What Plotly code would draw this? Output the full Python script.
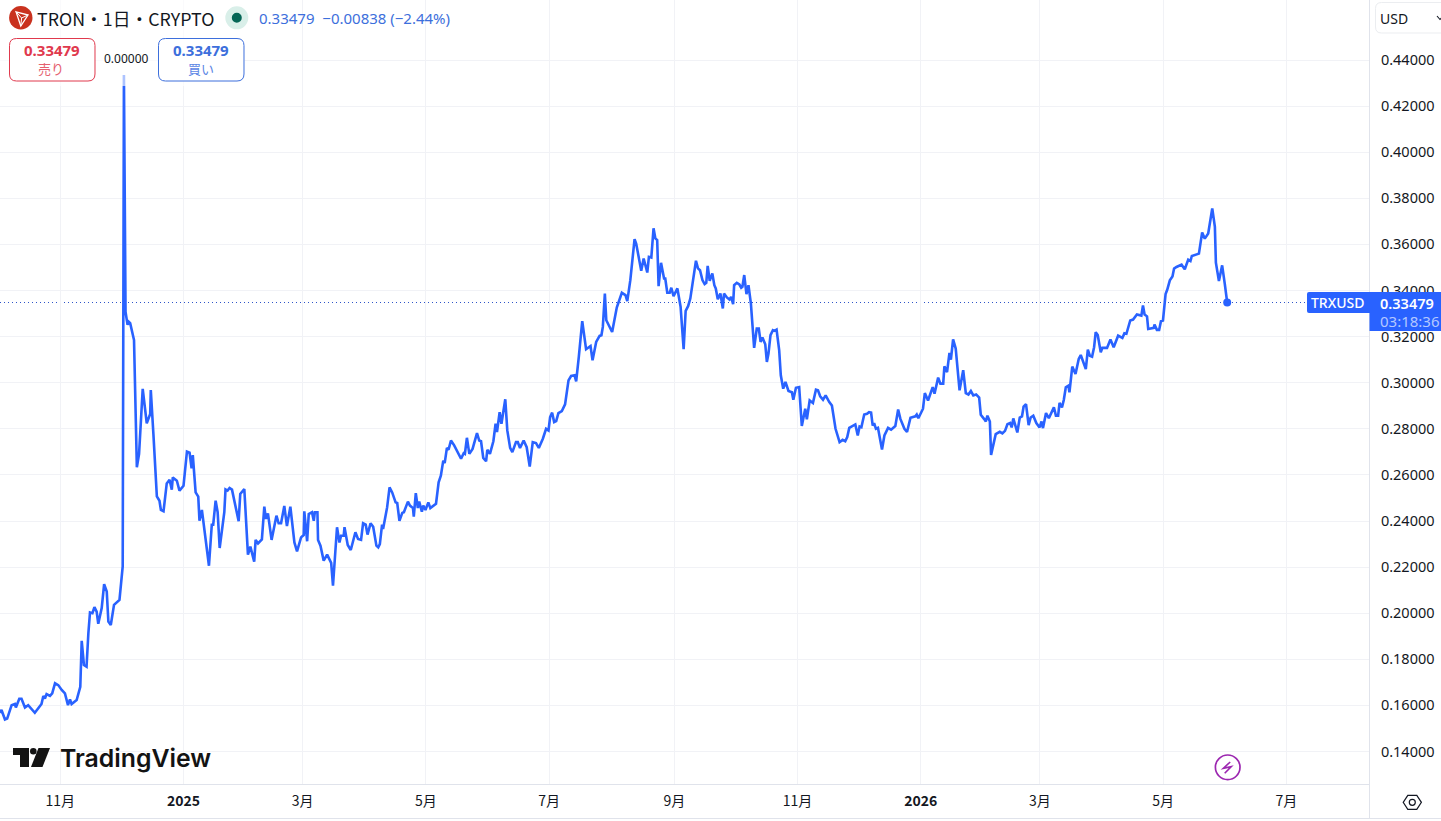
import pandas as pd
import plotly.graph_objects as go

# Daily TRX/USD closes: days counted from 1 Nov 2024 and the close in USD.
days_since_nov1 = [
    -29.9, -29.1, -27.4, -26.3, -24.1, -22.5, -22.0, -20.3, -19.2, -17.5, -15.9, -12.6, -9.3, -8.4, -7.6, -6.8,
    -5.1, -4.0, -2.6, -1.0, 0.7, 2.3, 3.8, 4.8, 5.6, 8.1, 9.9, 10.6, 11.7, 13.0, 13.9, 14.7, 15.9, 16.9, 18.0,
    18.8, 20.5, 21.7, 23.0, 23.8, 25.0, 26.6, 29.3, 30.9, 31.5, 32.3, 33.3, 33.9,
    34.6, 36.5, 37.9, 39.0, 40.8, 42.8, 44.5, 44.8, 46.1, 47.8, 49.1, 49.8, 51.1, 52.7, 54.1, 55.2, 55.7, 57.7,
    59.0, 61.0, 62.7, 64.0, 65.0, 65.6, 67.0, 68.3, 68.9, 70.1, 73.6, 75.0, 75.7, 76.9, 77.9, 78.9, 81.2, 81.8,
    82.8, 83.8, 85.0, 86.6, 88.3, 89.1, 91.1, 92.9, 94.1, 96.0, 96.7, 97.9, 99.8, 101.0, 101.8, 102.8, 104.6,
    107.0, 108.1, 109.3, 110.9, 112.2, 113.9, 115.9, 117.2, 119.2, 120.5, 120.8, 122.2, 123.0, 124.6, 125.5,
    126.0, 127.3, 127.6, 128.8, 130.4, 132.1, 134.1, 135.0, 137.0, 138.2, 139.0, 140.3, 140.7, 142.3, 143.8,
    146.1, 147.4, 148.9, 149.9, 151.2, 152.1, 153.6, 154.9, 156.5, 157.4, 158.2, 159.3, 159.8, 161.8, 163.0,
    164.3, 166.0, 166.8, 167.9, 169.3, 170.1, 172.1, 173.1, 174.6, 175.0, 176.0, 177.0, 177.7, 179.0, 179.7,
    180.8, 182.2, 183.2, 186.0,
    186.8, 187.3, 188.4, 189.6, 190.3, 191.4, 192.2, 193.4, 195.0, 198.4, 199.7, 200.3, 201.3, 202.5, 204.1,
    206.3, 207.4, 208.3, 209.4, 210.8, 211.4, 212.7, 214.4, 215.5, 216.2, 217.5, 218.4, 220.3, 221.3, 222.7,
    223.8, 225.6, 226.5, 227.6, 229.4, 230.9, 232.4, 233.9, 235.5, 236.9, 238.9, 240.5, 241.7, 242.5, 243.5,
    244.5, 245.5, 246.6, 248.3, 249.9, 251.6, 252.9, 254.6, 255.4, 256.7, 258.4, 260.3, 262.5, 263.5, 265.3,
    267.0, 267.9, 268.6, 269.6, 270.3, 271.9, 273.2, 275.5, 278.0, 279.8, 280.7, 282.2, 284.3, 285.1, 286.8,
    287.6, 288.8, 290.6, 291.4, 292.6, 293.7, 294.6, 295.5, 296.2, 297.4, 298.9, 299.5, 300.5, 301.7, 302.5,
    303.6, 305.5, 307.1, 308.6, 309.6, 310.8, 311.9, 314.7, 315.7, 316.7, 317.9, 319.0, 319.8, 320.5, 321.5,
    322.8, 323.8, 324.5, 325.5, 326.8,
    328.0, 328.6, 330.0, 331.3, 332.1, 333.1, 333.6, 334.9, 336.2, 337.1, 337.7, 338.6, 339.7, 340.7, 341.9,
    343.5, 344.8, 345.8, 346.7, 347.6, 349.0, 349.8, 350.6, 351.6, 352.8, 353.6, 354.6, 355.9, 356.7, 357.9,
    359.0, 360.5, 362.2, 362.9, 364.2, 365.8, 367.1, 368.8, 369.6, 371.0, 372.6, 374.1, 375.1, 376.2, 377.6,
    378.9, 380.7, 382.0, 383.8, 385.8, 387.3, 388.6, 389.6, 390.6, 393.6, 394.8, 395.7, 396.6, 398.0, 399.4,
    400.4, 401.4, 402.2, 402.9, 403.8, 404.8, 406.8, 408.0, 409.8, 411.3, 413.4, 414.8, 415.9, 417.9, 419.2,
    420.9, 423.3, 424.0, 424.8, 427.1, 428.0, 429.6, 431.9, 432.8, 434.6, 435.7, 437.1, 437.7, 439.0, 440.2,
    440.9, 442.0, 443.3, 445.2, 447.0, 448.3, 449.6, 450.8, 452.0, 453.4, 454.9,
    455.7, 457.4, 458.2, 459.0, 460.2, 460.8, 463.1, 465.1, 466.4, 467.7, 468.9, 470.2, 471.0, 471.8, 473.8,
    475.0, 476.1, 476.9, 478.1, 479.4, 480.4, 481.7, 483.2, 484.8, 485.8, 486.5, 488.0, 489.4, 491.9, 492.9,
    494.0, 494.7, 495.9, 496.8, 497.8, 499.1, 499.6, 501.0, 502.6, 504.2, 505.2, 507.7, 508.7, 509.7, 510.8,
    511.8, 512.6, 513.6, 515.1, 515.9, 518.2, 519.9, 521.5, 523.7, 525.8, 526.8, 527.8, 529.7, 531.1, 533.0,
    535.2, 536.0, 536.8, 538.0, 538.6, 541.4, 541.7, 542.9, 544.0, 544.9, 545.9, 547.2,
    548.0, 549.3, 550.6, 551.4, 552.6, 555.1, 556.7, 558.4, 559.5, 560.2, 563.7, 565.3, 566.6, 568.3, 570.3,
    571.6, 572.1, 573.6, 575.2, 576.5, 577.7,
]
close_usd = [
    .1568, .1580, .1539, .1543, .1601, .1606, .1591, .1629, .1629, .1591, .1601, .1568, .1606, .1641, .1630, .1649,
    .1641, .1652, .1696, .1688, .1667, .1652, .1601, .1626, .1606, .1623, .1681, .1880, .1775, .1768, .1913, .2003, .2000, .2026, .2007,
    .1954, .2022, .2126, .2094, .1964, .1949, .2036, .2058, .2203, .4335, .3307, .3251, .3264,
    .3258, .3185, .2633, .2691, .2973, .2824, .2864, .2968, .2777, .2507, .2488, .2448, .2442, .2563, .2579, .2536, .2589, .2575,
    .2532, .2553, .2701, .2696, .2628, .2686, .2524, .2506, .2401, .2448, .2206, .2384, .2384, .2488, .2438, .2283, .2438, .2537,
    .2532, .2543, .2536, .2462, .2399, .2517, .2539, .2254, .2289, .2224, .2318, .2303, .2320, .2462, .2409, .2433, .2318,
    .2423, .2390, .2390, .2465, .2378, .2462, .2307, .2268, .2329, .2339, .2442, .2312, .2430, .2438, .2401,
    .2438, .2438, .2318, .2293, .2228, .2254, .2218, .2119, .2373, .2307, .2336, .2336, .2373, .2296, .2274,
    .2351, .2322, .2318, .2390, .2384, .2341, .2390, .2375, .2293, .2286, .2300, .2384, .2365, .2459, .2546,
    .2524, .2481, .2478, .2401, .2435, .2438, .2484, .2467, .2456, .2419, .2521, .2456, .2484, .2440, .2467,
    .2448, .2481, .2456, .2475,
    .2532, .2568, .2597, .2662, .2651, .2717, .2709, .2749, .2728, .2670, .2694, .2691, .2761, .2691, .2713,
    .2781, .2749, .2746, .2674, .2659, .2709, .2691, .2746, .2822, .2786, .2872, .2822, .2928, .2793, .2717,
    .2699, .2742, .2742, .2717, .2749, .2720, .2636, .2742, .2738, .2717, .2757, .2800, .2793, .2851, .2870,
    .2829, .2833, .2868, .2877, .2906, .3010, .3029, .3032, .3006, .3112, .3267, .3145, .3159, .3097, .3177,
    .3203, .3206, .3242, .3387, .3271, .3242, .3220, .3326, .3390, .3380, .3354, .3445, .3623, .3604, .3517,
    .3486, .3539, .3478, .3546, .3543, .3670, .3626, .3619, .3419, .3520, .3452, .3452, .3390, .3390, .3412,
    .3375, .3409, .3329, .3145, .3312, .3332, .3365, .3529, .3496, .3488, .3445, .3428, .3433, .3507, .3442,
    .3474, .3423, .3409, .3362, .3387,
    .3322, .3387, .3370, .3361, .3372, .3341, .3423, .3433, .3426, .3412, .3416, .3467, .3384, .3423, .3343,
    .3151, .3235, .3235, .3177, .3196, .3167, .3090, .3126, .3206, .3228, .3225, .3230, .3141, .3032, .2974,
    .3003, .2964, .2959, .2926, .2978, .2981, .2812, .2887, .2841, .2923, .2912, .2970, .2967, .2941, .2926,
    .2945, .2916, .2901, .2800, .2742, .2752, .2746, .2764, .2804, .2819, .2771, .2810, .2807, .2862, .2865,
    .2872, .2870, .2814, .2825, .2800, .2804, .2710, .2771, .2804, .2796, .2812, .2884, .2843, .2800, .2786,
    .2848, .2854, .2862, .2846, .2887, .2955, .2923, .2981, .2952, .3022, .2996, .2996, .3071, .3046, .3129,
    .3100, .3188, .3148, .2967, .3054, .2955, .2949, .2964, .2945, .2949, .2935,
    .2861, .2842, .2832, .2857, .2832, .2687, .2777, .2787, .2780, .2791, .2820, .2825, .2806, .2845, .2784,
    .2849, .2854, .2896, .2907, .2816, .2849, .2857, .2825, .2806, .2832, .2803, .2868, .2846, .2893, .2857,
    .2857, .2912, .2893, .2925, .2980, .2987, .2958, .3070, .3038, .3103, .3120, .3059, .3143, .3117, .3113,
    .3154, .3219, .3207, .3132, .3151, .3151, .3187, .3154, .3204, .3194, .3214, .3212, .3270, .3274, .3296,
    .3291, .3335, .3296, .3288, .3233, .3238, .3252, .3229, .3229, .3267, .3270, .3385,
    .3403, .3444, .3461, .3495, .3502, .3512, .3492, .3534, .3528, .3550, .3560, .3652, .3625, .3647, .3756,
    .3676, .3521, .3441, .3509, .3429, .33479,
]
assert len(days_since_nov1) == len(close_usd)

price_ticks = [0.14, 0.16, 0.18, 0.20, 0.22, 0.24, 0.26, 0.28, 0.30, 0.32, 0.34, 0.36, 0.38, 0.40, 0.42, 0.44]
month_ticks = ["2024-11-01", "2025-01-01", "2025-03-01", "2025-05-01", "2025-07-01", "2025-09-01",
               "2025-11-01", "2026-01-01", "2026-03-01", "2026-05-01", "2026-07-01"]
month_labels = ["11月", "<b>2025</b>", "3月", "5月", "7月", "9月", "11月", "<b>2026</b>", "3月", "5月", "7月"]

BLUE = "#2962ff"
RED = "#e0394d"
INK = "#131722"
GRID = "#f1f2f6"
EDGE = "#e0e3eb"
LATIN = "'Noto Sans', 'Noto Sans CJK JP', sans-serif"
CJK = "'Noto Sans CJK JP', 'Noto Sans', sans-serif"

WIDTH, HEIGHT = 1441, 821
PANE_W, PANE_H = 1369, 784

origin = pd.Timestamp("2024-11-01")


def to_date(day):
    return origin + pd.Timedelta(days=day)


def px(x):
    return x / PANE_W


def py(y):
    return 1 - y / PANE_H


def poly(points, close=True):
    body = " L".join(f"{px(x):.5f},{py(y):.5f}" for x, y in points)
    return "M" + body + (" Z" if close else "")


def round_rect(x0, y0, x1, y1, r):
    c = lambda x, y: f"{px(x):.5f},{py(y):.5f}"
    return (f"M{c(x0 + r, y0)} L{c(x1 - r, y0)} Q{c(x1, y0)} {c(x1, y0 + r)} "
            f"L{c(x1, y1 - r)} Q{c(x1, y1)} {c(x1 - r, y1)} L{c(x0 + r, y1)} "
            f"Q{c(x0, y1)} {c(x0, y1 - r)} L{c(x0, y0 + r)} Q{c(x0, y0)} {c(x0 + r, y0)} Z")


def path(d, fill="rgba(0,0,0,0)", stroke=None, width=1.0):
    return dict(type="path", xref="paper", yref="paper", path=d, fillcolor=fill, layer="above",
                line=dict(color=stroke if stroke else "rgba(0,0,0,0)", width=width if stroke else 0))


def disc(cx, cy, r, fill="rgba(0,0,0,0)", stroke=None, width=1.0):
    return dict(type="circle", xref="paper", yref="paper", layer="above", fillcolor=fill,
                x0=px(cx - r), x1=px(cx + r), y0=py(cy + r), y1=py(cy - r),
                line=dict(color=stroke if stroke else "rgba(0,0,0,0)", width=width if stroke else 0))


def rule(x0, y0, x1, y1, color=EDGE):
    return dict(type="line", xref="paper", yref="paper", layer="above",
                x0=px(x0), y0=py(y0), x1=px(x1), y1=py(y1), line=dict(color=color, width=1))


def label(text, x, y, size, color=INK, anchor="center", family=LATIN, weight=None):
    font = dict(size=size, color=color, family=family)
    if weight:
        font["weight"] = weight
    return dict(text=text, x=px(x), y=py(y), xref="paper", yref="paper", xanchor=anchor, yanchor="middle",
                showarrow=False, font=font, borderpad=0, bgcolor="rgba(0,0,0,0)")


dates = [to_date(d) for d in days_since_nov1]

fig = go.Figure()
fig.add_trace(go.Scatter(x=dates, y=close_usd, mode="lines", hoverinfo="skip",
                         line=dict(color=BLUE, width=2.6)))
fig.add_trace(go.Scatter(x=dates[-1:], y=close_usd[-1:], mode="markers", hoverinfo="skip",
                         marker=dict(color=BLUE, size=8)))

shapes = [
    # Dotted last-price line
    dict(type="line", xref="paper", yref="y", x0=0, x1=1, y0=close_usd[-1], y1=close_usd[-1], layer="below",
         line=dict(color="#2f55c8", width=1, dash="1px,3px")),
    # Legend backdrop that fades whatever runs beneath it
    dict(type="rect", xref="paper", yref="paper", x0=0, x1=px(245), y0=py(86), y1=py(0), layer="above",
         fillcolor="rgba(255,255,255,0.62)", line=dict(width=0)),
    # Frame of the price and time scales
    rule(1369.5, 784, 1369.5, 818),
    rule(0, 818.5, 1441, 818.5),
    # Symbol badge
    disc(20.8, 17.8, 11.7, fill="#c9321f"),
    path(poly([(16, 11.8), (28, 15), (20.8, 26)]), stroke="#ffffff", width=1.3),
    path(poly([(16, 11.8), (21.6, 18), (28, 15)], close=False), stroke="#ffffff", width=1.0),
    path(poly([(21.6, 18), (20.8, 26)], close=False), stroke="#ffffff", width=1.0),
    # Market status dot
    disc(236.8, 17.8, 11.5, fill="#d9efe9"),
    disc(236.8, 17.8, 5, fill="#056656"),
    # Sell and buy buttons
    path(round_rect(9.5, 38.5, 95, 81, 7), fill="#ffffff", stroke=RED, width=1),
    path(round_rect(158.5, 38.5, 244, 81, 7), fill="#ffffff", stroke="#3d6fdc", width=1),
    # Currency button
    path(round_rect(1375.5, 2.5, 1450, 33, 6), fill="#ffffff", stroke="#ebedf0", width=1),
    path(poly([(1437, 16), (1440, 19.5), (1443, 16)], close=False), stroke=INK, width=1.1),
    # Name tag and price tag on the scale
    path(round_rect(1307, 292, 1372, 313, 2), fill=BLUE),
    dict(type="rect", xref="paper", yref="paper", x0=px(1369.5), x1=px(1441), y0=py(331), y1=py(292),
         layer="above", fillcolor=BLUE, line=dict(width=0)),
    # Wordmark glyph
    path(poly([(13, 748), (29, 748), (29, 767), (20, 767), (20, 755), (13, 755)]), fill="#131313"),
    disc(33.3, 751.2, 3.3, fill="#131313"),
    path(poly([(38.5, 748), (50, 748), (42.5, 767), (31, 767)]), fill="#131313"),
    # Lightning badge
    disc(1227.7, 767.3, 12.3, stroke="#9c27b0", width=1.7),
    path(poly([(1230.2, 762), (1223.3, 768.3), (1231.3, 766.6), (1224.7, 773.3)], close=False),
         stroke="#9c27b0", width=1.6),
    # Settings hexagon
    path(poly([(1403.2, 802.3), (1407.8, 795.3), (1416.8, 795.3), (1421.4, 802.3), (1416.8, 809.3), (1407.8, 809.3)]),
         stroke=INK, width=1.2),
    disc(1412.3, 802.3, 3, stroke=INK, width=1.2),
]

annotations = [
    label("TRON・1日・CRYPTO", 36, 18.5, 17.8, anchor="left", family=CJK),
    label("0.33479  −0.00838 (−2.44%)", 258, 17.5, 15, color="#3d6fdc", anchor="left"),
    label("0.33479", 52, 50, 15, color=RED, weight=700),
    label("売り", 51, 68, 13, color="#e5606f", family=CJK),
    label("0.00000", 126, 58.5, 12, color="#131722"),
    label("0.33479", 201, 50, 15, color="#3d6fdc", weight=700),
    label("買い", 201, 68, 13, color="#5b86e5", family=CJK),
    label("USD", 1379, 18, 14, anchor="left"),
    label("TRXUSD", 1338, 302.5, 14, color="#ffffff", weight=500),
    label("0.33479", 1407, 302.5, 14.5, color="#ffffff", weight=600),
    label("03:18:36", 1410, 320.5, 15, color="#b4c8ff"),
    label("TradingView", 58.5, 757.5, 24.8, color="#131313", anchor="left", family="Inter, sans-serif", weight=600),
]

fig.update_layout(
    width=WIDTH,
    height=HEIGHT,
    margin=dict(l=0, r=WIDTH - PANE_W, t=0, b=HEIGHT - PANE_H, pad=0),
    paper_bgcolor="#ffffff",
    plot_bgcolor="#ffffff",
    showlegend=False,
    hovermode=False,
    shapes=shapes,
    annotations=annotations,
    xaxis=dict(
        type="date",
        range=[to_date(-29.85), to_date(647.9)],
        tickvals=month_ticks,
        ticktext=month_labels,
        tickfont=dict(size=14, color=INK, family=CJK),
        tickangle=0,
        ticks="outside",
        ticklen=4,
        tickcolor="rgba(0,0,0,0)",
        showgrid=True,
        gridcolor=GRID,
        gridwidth=1,
        zeroline=False,
        showline=True,
        linecolor=EDGE,
        linewidth=1,
    ),
    yaxis=dict(
        side="right",
        range=[0.1259, 0.46603],
        tickvals=price_ticks,
        tickformat=".5f",
        tickfont=dict(size=14.5, color=INK, family=LATIN),
        ticks="outside",
        ticklen=8,
        tickcolor="rgba(0,0,0,0)",
        showgrid=True,
        gridcolor=GRID,
        gridwidth=1,
        zeroline=False,
        showline=True,
        linecolor=EDGE,
        linewidth=1,
    ),
)

fig.write_html("out.html")
